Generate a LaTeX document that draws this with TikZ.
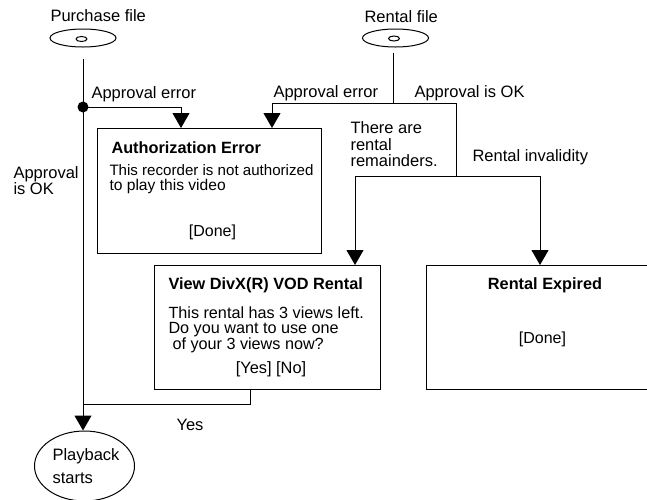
\documentclass[tikz,border=0pt]{standalone}
\usepackage{fontspec}
\setmainfont{Liberation Sans}
\usetikzlibrary{
  shapes.geometric,
  arrows.meta,
}
\tikzset{
  label text/.style={anchor=base west,inner sep=0pt,font=\fontsize{16.5}{18}\selectfont},
  centre text/.style={anchor=base,inner sep=0pt,font=\fontsize{16}{18}\selectfont},
  title text/.style={anchor=base west,inner sep=0pt,font=\fontsize{16.3}{18}\selectfont\bfseries},
  view text/.style={anchor=base west,inner sep=0pt,font=\fontsize{16.2}{18}\selectfont},
  disc/.style={draw,ellipse,inner sep=0pt,minimum width=66pt,minimum height=18pt},
  disc hole/.style={draw,ellipse,inner sep=0pt,minimum width=11pt,minimum height=5pt},
  screen/.style={draw,anchor=north west,inner sep=0pt},
  flow/.style={line width=1pt},
  flow arrow/.style={line width=1pt,-{Triangle[length=15pt,width=17pt]}},
}
\begin{document}
\begin{tikzpicture}[x=1pt,y=-1pt,line width=1pt]
\useasboundingbox (0,0) rectangle (647,499);

\node[label text] (purchaselabel) at (50,21) {Purchase file};
\node[disc] (purchase) at (83,38) {};
\node[disc hole] (purchasehole) at (81.5,39) {};
\node[label text] (rentallabel) at (364,22) {Rental file};
\node[disc] (rental) at (395.5,38) {};
\node[disc hole] (rentalhole) at (394,38.5) {};

\node[screen,minimum width=224pt,minimum height=125pt] (autherror) at (97,128) {};
\node[title text] (authtitle) at (111,153) {Authorization Error};
\node[label text,font=\fontsize{15.1}{18}\selectfont] (authlineA) at (109,175) {This recorder is not authorized};
\node[label text,font=\fontsize{15.6}{18}\selectfont] (authlineB) at (109,190) {to play this video};
\node[centre text] (authdone) at (212.5,236) {[Done]};

\node[screen,minimum width=226pt,minimum height=124pt] (viewrental) at (154,265) {};
\node[title text] (viewtitle) at (168,289) {View DivX(R) VOD Rental};
\node[view text] (viewlineA) at (168,318) {This rental has 3 views left.};
\node[view text] (viewlineB) at (168,333) {Do you want to use one};
\node[view text] (viewlineC) at (172,349) {of your 3 views now?};
\node[centre text,font=\fontsize{16.4}{18}\selectfont] (viewbuttons) at (271,373) {[Yes] [No]};

% runs past the right edge of the page
\node[screen,minimum width=240pt,minimum height=124pt] (expired) at (426,265) {};
\node[title text,anchor=base] (expiredtitle) at (545,289) {Rental Expired};
\node[centre text] (expireddone) at (542.5,343) {[Done]};

\node[draw,ellipse,inner sep=0pt,minimum width=100pt,minimum height=70pt] (playback) at (84.5,466) {};
\node[label text] (playbackA) at (52,460) {Playback};
\node[label text] (playbackB) at (52,483) {starts};

\node[label text] (errorA) at (91,98) {Approval error};
\node[label text] (errorB) at (273,97) {Approval error};
\node[label text] (okrental) at (414,97) {Approval is OK};
\node[label text] (remainA) at (350,133) {There are};
\node[label text] (remainB) at (350,150) {rental};
\node[label text] (remainC) at (350,166) {remainders.};
\node[label text] (invalid) at (472,161) {Rental invalidity};
\node[label text] (okA) at (13,178) {Approval};
\node[label text] (okB) at (13,194) {is OK};
\node[label text] (yes) at (176,430) {Yes};

\coordinate (purchasestart) at (83,59);
\coordinate (rentalstart) at (393,53);
\coordinate (purchasedot) at (83,107);
\coordinate (rentalsplit) at (393,103);
\coordinate (oksplit) at (456,176);
\coordinate (yesstart) at (250,389);
\coordinate (yesjoin) at (83,404);

\draw[flow arrow] (purchasestart) -- (playback.north -| purchasestart);
\fill (purchasedot) circle (5.5pt);
\draw[flow arrow] (purchasedot) -| (181,128);
\draw[flow] (rentalstart) -- (rentalsplit);
\draw[flow arrow] (rentalsplit) -| (272,128);
\draw[flow] (rentalsplit) -| (oksplit);
\draw[flow arrow] (oksplit) -| (355,265);
\draw[flow arrow] (oksplit) -| (540,265);
\draw[flow] (yesstart) |- (yesjoin);
\end{tikzpicture}
\end{document}
